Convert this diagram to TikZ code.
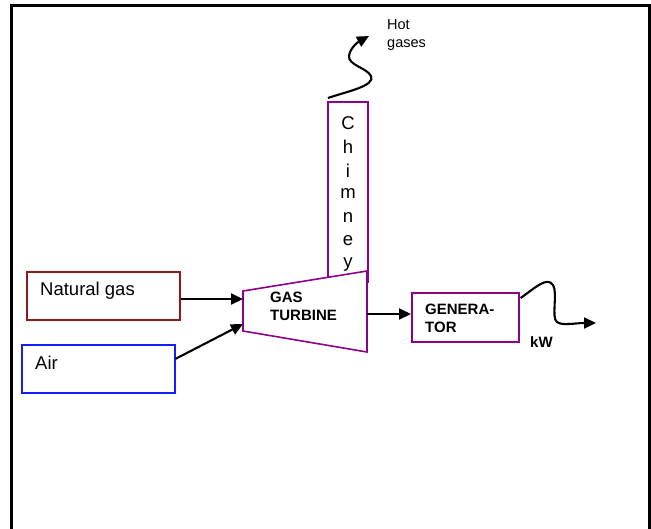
\documentclass[tikz,border=0pt]{standalone}
\usepackage{fontspec}
\setmainfont{Liberation Sans}
\usetikzlibrary{arrows.meta}
\definecolor{ngred}{RGB}{140,26,26}
\definecolor{airblue}{RGB}{20,30,250}
\definecolor{purp}{RGB}{140,0,140}
\tikzset{
  frameline/.style={line width=3pt},
  box/.style={draw, line width=1.6pt, minimum width=#1, anchor=north west, inner sep=0pt},
  flow/.style={line width=2.1pt, -{Triangle[length=12pt,width=11pt]}},
  wavy/.style={line width=2.1pt, -{Triangle[length=12pt,width=11pt]}},
  lbl/.style={font=\fontsize{18.5}{20}\selectfont, anchor=west, inner sep=0pt},
  blbl/.style={font=\fontsize{15}{18}\selectfont\bfseries, anchor=west, inner sep=0pt, align=left},
  slbl/.style={font=\fontsize{14.5}{18}\selectfont, anchor=west, inner sep=0pt, align=left},
}
\begin{document}
\begin{tikzpicture}[x=1pt,y=-1pt]
\useasboundingbox (0,0) rectangle (651,528);
% frame
\draw[frameline] (11.5,540) -- (11.5,5.5) -- (649.5,5.5) -- (649.5,540);
% chimney
\node[box=40pt, minimum height=180pt, draw=purp, line width=1.8pt] (chim) at (327,101) {};
\foreach \ch [count=\i] in {C,h,i,m,n,e,y}
  \node[font=\fontsize{18.5}{20}\selectfont, inner sep=0pt] at (348,{100+\i*23.5}) {\ch};
% turbine
\coordinate (ttl) at (243,291);
\coordinate (tbl) at (243,331);
\coordinate (ttr) at (367,271);
\coordinate (tbr) at (367,352);
\filldraw[draw=purp, fill=white, line width=1.6pt] (ttl) -- (ttr) -- (tbr) -- (tbl) -- cycle;
\coordinate (tin1) at (243,299);
\coordinate (tin2) at (243,324);
\coordinate (tout) at (367,314);
\node[blbl] (gt) at (270,306) {GAS\\TURBINE};
% natural gas
\node[box=153pt, minimum height=48pt, draw=ngred] (ng) at (26,271) {};
\node[lbl] at (40,291) {Natural gas};
% air
\node[box=153pt, minimum height=48pt, draw=airblue] (air) at (21,344) {};
\node[lbl] at (35,363) {Air};
% generator
\node[box=107pt, minimum height=49pt, draw=purp] (gen) at (411,292) {};
\node[blbl] at (425,318) {GENERA-\\TOR};
\node[blbl] at (530,342) {kW};
% arrows
\draw[flow] (ng.east |- tin1) -- (tin1);
\draw[flow] (air.east) ++(0,-10) -- (tin2);
\draw[flow] (tout) -- (gen.west |- tout);
% generator output
\draw[wavy] (gen.north east) ++(1,6) .. controls (535,288) and (547,276) .. (553,285)
  .. controls (558,293) and (551,318) .. (557,322)
  .. controls (562,326) and (575,323) .. (596,323);
% hot gases
\draw[wavy] (chim.north west) ++(1,-3) .. controls (345,92) and (376,86) .. (371,76)
  .. controls (367,68) and (348,65) .. (349,56)
  .. controls (350,48) and (358,42) .. (369,36);
\node[slbl] at (387,35) {Hot\\gases};
\end{tikzpicture}
\end{document}
